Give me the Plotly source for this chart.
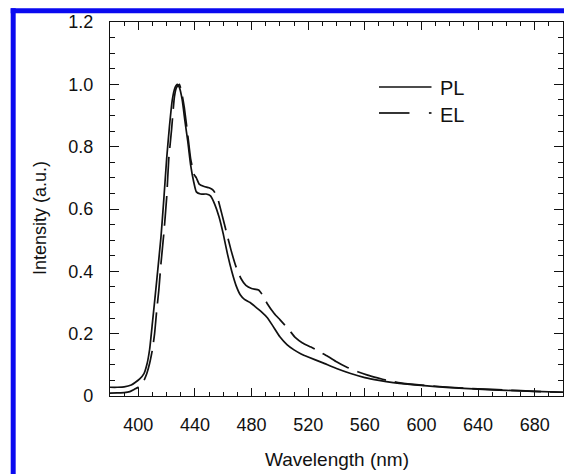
import plotly.graph_objects as go

# PL spectrum
pl_wavelength = [380, 385, 390, 395, 398, 401, 404, 406, 408, 410, 413, 416, 418, 420, 422, 424,
                 426, 427.5, 429, 431, 433, 435, 437, 439, 441, 444, 448, 451, 454, 457, 460,
                 463, 466, 469, 472, 475, 479, 483, 487, 491, 495, 500, 505, 510, 515, 520,
                 530, 540, 550, 560, 570, 580, 590, 600, 620, 640, 660, 680, 700]
pl_intensity = [0.028, 0.028, 0.029, 0.035, 0.044, 0.055, 0.072, 0.10, 0.15, 0.236, 0.37, 0.51,
                0.63, 0.76, 0.865, 0.95, 0.99, 1.0, 0.99, 0.95, 0.88, 0.815, 0.74, 0.69, 0.655,
                0.648, 0.648, 0.642, 0.615, 0.575, 0.52, 0.455, 0.40, 0.355, 0.325, 0.31, 0.30,
                0.285, 0.27, 0.252, 0.225, 0.19, 0.165, 0.148, 0.135, 0.125, 0.107, 0.088,
                0.072, 0.059, 0.05, 0.043, 0.038, 0.034, 0.027, 0.022, 0.018, 0.015, 0.012]

# EL spectrum
el_wavelength = [380, 385, 390, 394, 397, 400, 402, 404, 406, 408, 410, 411.5, 413, 414.5, 416,
                 418, 420, 421.5, 423.5, 425.5, 427, 429, 431, 432.5, 435, 437, 439.5, 441, 443,
                 446.5, 450, 453, 456, 459.5, 462, 465.5, 469, 472.5, 476, 480, 485, 488, 491,
                 496, 500, 506, 511, 516, 522, 528, 534, 540, 547, 555, 562, 569, 576, 585, 600,
                 620, 640, 660, 680, 700]
el_intensity = [0.009, 0.010, 0.011, 0.014, 0.021, 0.028, 0.036, 0.05, 0.072, 0.105, 0.15, 0.20,
                0.275, 0.34, 0.425, 0.52, 0.635, 0.76, 0.855, 0.96, 0.99, 1.0, 0.965, 0.925,
                0.835, 0.76, 0.71, 0.70, 0.68, 0.672, 0.668, 0.66, 0.635, 0.575, 0.53, 0.468,
                0.415, 0.377, 0.355, 0.345, 0.34, 0.322, 0.297, 0.265, 0.245, 0.215, 0.187,
                0.17, 0.157, 0.142, 0.127, 0.11, 0.093, 0.078, 0.067, 0.058, 0.05, 0.042, 0.035,
                0.028, 0.023, 0.019, 0.015, 0.012]

x_ticks = [400, 440, 480, 520, 560, 600, 640, 680]
y_ticks = [0, 0.2, 0.4, 0.6, 0.8, 1.0, 1.2]
y_ticktext = ['0', '0.2', '0.4', '0.6', '0.8', '1.0', '1.2']

FONT = 'Liberation Sans, Arial, sans-serif'

fig = go.Figure()
fig.add_trace(go.Scatter(x=pl_wavelength, y=pl_intensity, mode='lines', name='PL',
                         line=dict(color='#111111', width=1.7, shape='spline', smoothing=0.5)))
fig.add_trace(go.Scatter(x=el_wavelength, y=el_intensity, mode='lines', name='EL',
                         line=dict(color='#111111', width=1.7, shape='spline', smoothing=0.5,
                                   dash='30px,9px')))

axis_common = dict(
    showgrid=False, zeroline=False, showline=True, linecolor='#111111', linewidth=1.2,
    mirror='ticks', ticks='inside', tickcolor='#111111', tickwidth=1.2,
    tickfont=dict(family=FONT, size=18, color='#111111'),
)

fig.update_xaxes(range=[380, 700], tickvals=x_ticks, ticklen=8, ticklabelstandoff=12,
                 minor=dict(dtick=10, ticks='inside', ticklen=4, tickcolor='#111111',
                            tickwidth=1.2),
                 **axis_common)
fig.update_yaxes(range=[0, 1.2], tickvals=y_ticks, ticktext=y_ticktext, ticklen=9,
                 ticklabelstandoff=12,
                 minor=dict(dtick=0.05, ticks='inside', ticklen=5, tickcolor='#111111',
                            tickwidth=1.2),
                 **axis_common)

# blue frame around the panel
blue = '#0a0af0'
shapes = [
    dict(type='rect', xref='paper', yref='paper', x0=-0.2192, x1=-0.2082, y0=-0.21, y1=1.0366,
         fillcolor=blue, line=dict(width=0), layer='above'),
    dict(type='rect', xref='paper', yref='paper', x0=-0.2192, x1=1.01, y0=1.0233, y1=1.0366,
         fillcolor=blue, line=dict(width=0), layer='above'),
    # legend samples
    dict(type='line', xref='paper', yref='paper', x0=0.5938, x1=0.7097, y0=0.8262, y1=0.8262,
         line=dict(color='#111111', width=1.7)),
    dict(type='line', xref='paper', yref='paper', x0=0.5938, x1=0.6611, y0=0.7567, y1=0.7567,
         line=dict(color='#111111', width=1.7)),
    dict(type='line', xref='paper', yref='paper', x0=0.7040, x1=0.7097, y0=0.7567, y1=0.7567,
         line=dict(color='#111111', width=1.7)),
]

annotations = [
    dict(text='PL', xref='paper', yref='paper', x=0.7247, y=0.8227, xanchor='left',
         yanchor='middle', showarrow=False, font=dict(family=FONT, size=20, color='#111111')),
    dict(text='EL', xref='paper', yref='paper', x=0.7247, y=0.7513, xanchor='left',
         yanchor='middle', showarrow=False, font=dict(family=FONT, size=20, color='#111111')),
    dict(text='Wavelength (nm)', xref='paper', yref='paper', x=0.5, y=-0.171, xanchor='center',
         yanchor='middle', showarrow=False, font=dict(family=FONT, size=19, color='#111111')),
    dict(text='Intensity (a.u.)', xref='paper', yref='paper', x=-0.1545, y=0.476,
         xanchor='center', yanchor='middle', textangle=-90, showarrow=False,
         font=dict(family=FONT, size=18, color='#111111')),
]

fig.update_layout(
    width=564, height=474,
    margin=dict(l=110, r=1, t=22, b=78),
    paper_bgcolor='white', plot_bgcolor='white',
    showlegend=False,
    shapes=shapes, annotations=annotations,
)

fig.write_html("out.html", config={'displayModeBar': False},
               post_script="document.body.style.margin='0';document.body.style.overflow='hidden';")
